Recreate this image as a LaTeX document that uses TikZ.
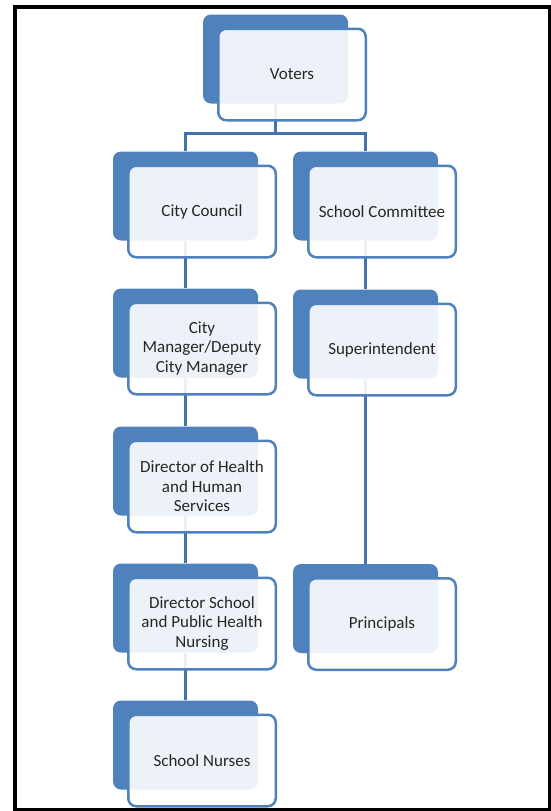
\documentclass[tikz,border=0pt]{standalone}
\usepackage{fontspec}
\setmainfont{Carlito}
\usepackage{tikz}
\usetikzlibrary{positioning,calc}
\definecolor{orgblue}{RGB}{79,129,189}
\definecolor{linkblue}{RGB}{68,114,172}

\begin{document}
\begin{tikzpicture}[x=1pt,y=-1pt,
		backbox/.style={rectangle,rounded corners=8pt,fill=orgblue,minimum width=145pt,minimum height=89pt,inner sep=0pt},
		frontbox/.style={rectangle,rounded corners=8pt,draw=orgblue,line width=2.5pt,fill=white,fill opacity=0.9,text opacity=1,text=black!85,minimum width=147.5pt,minimum height=91.5pt,inner sep=0pt,align=center,font=\fontsize{17}{19.5}\selectfont},
		link/.style={draw=linkblue,line width=3pt}]
		\useasboundingbox (0,0) rectangle (551,811);
		% back boxes
		\node[backbox] (voters-bk) at (275.5,59) {};
		\node[backbox] (council-bk) at (185.5,196) {};
		\node[backbox] (manager-bk) at (185.5,333) {};
		\node[backbox] (healthdir-bk) at (185.5,471) {};
		\node[backbox] (nursedir-bk) at (185.5,608) {};
		\node[backbox] (nurses-bk) at (185.5,745) {};
		\node[backbox] (committee-bk) at (365.5,196) {};
		\node[backbox] (super-bk) at (365.5,334) {};
		\node[backbox] (principals-bk) at (365.5,608.5) {};
		% links
		\coordinate (split) at (275.5,133);
		\draw[link] (voters-bk) -- (split) -| (council-bk);
		\draw[link] (split) -| (committee-bk);
		\draw[link] (council-bk) -- (manager-bk);
		\draw[link] (manager-bk) -- (healthdir-bk);
		\draw[link] (healthdir-bk) -- (nursedir-bk);
		\draw[link] (nursedir-bk) -- (nurses-bk);
		\draw[link] (committee-bk) -- (super-bk);
		\draw[link] (super-bk) -- (principals-bk);
		% front boxes
		\node[frontbox] (voters) at ($(voters-bk)+(16.5,15.5)$) {Voters};
		\node[frontbox] (council) at ($(council-bk)+(16.5,15.5)$) {City Council};
		\node[frontbox] (manager) at ($(manager-bk)+(16.5,15.5)$) {City\\Manager/Deputy\\City Manager};
		\node[frontbox] (healthdir) at ($(healthdir-bk)+(16.5,15.5)$) {Director of Health\\and Human\\Services};
		\node[frontbox] (nursedir) at ($(nursedir-bk)+(16.5,15.5)$) {Director School\\and Public Health\\Nursing};
		\node[frontbox] (nurses) at ($(nurses-bk)+(16.5,15.5)$) {School Nurses};
		\node[frontbox] (committee) at ($(committee-bk)+(16.5,15.5)$) {School Committee};
		\node[frontbox] (super) at ($(super-bk)+(16.5,15.5)$) {Superintendent};
		\node[frontbox] (principals) at ($(principals-bk)+(16.5,15.5)$) {Principals};
		% frame
		\draw[line width=3.5pt] (15,7) rectangle (549.5,809.5);
\end{tikzpicture}
\end{document}
